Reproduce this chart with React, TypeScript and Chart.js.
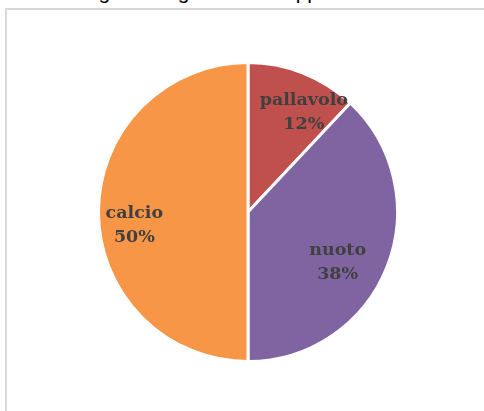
import React, { useEffect, useRef } from "react";
import { Chart, registerables } from "chart.js";

Chart.register(...registerables);

const categories = ["pallavolo", "nuoto", "calcio"];
const values = [12, 38, 50];
const percentLabels = ["12%", "38%", "50%"];
const colors = ["#C0504D", "#8064A2", "#F79646"];
const titleText = "Il gioco degli studenti appassionati";

const labelOffsets = [
  { dx: 14, dy: 6 },
  { dx: -16, dy: 9 },
  { dx: 0, dy: 13 },
];

const labelPlugin = {
  id: "sliceLabels",
  afterDatasetsDraw(chart: any) {
    const ctx = chart.ctx;
    const meta = chart.getDatasetMeta(0);
    ctx.save();
    ctx.font = "bold 17.5px 'DejaVu Serif'";
    ctx.fillStyle = "#404040";
    ctx.textAlign = "center";
    ctx.textBaseline = "middle";
    meta.data.forEach((arc: any, i: number) => {
      const p = arc.getProps(["x", "y", "startAngle", "endAngle", "outerRadius"], true);
      const mid = (p.startAngle + p.endAngle) / 2;
      const r = p.outerRadius * 0.76;
      const cx = p.x + Math.cos(mid) * r + labelOffsets[i].dx;
      const cy = p.y + Math.sin(mid) * r + labelOffsets[i].dy;
      ctx.fillText(categories[i], cx, cy - 12);
      ctx.fillText(percentLabels[i], cx, cy + 12);
    });
    ctx.restore();
  },
};

export default function App() {
  const ref = useRef<HTMLCanvasElement>(null);
  useEffect(() => {
    if (!ref.current) return;
    const chart = new Chart(ref.current, {
      type: "pie",
      data: {
        labels: categories,
        datasets: [
          {
            data: values,
            backgroundColor: colors,
            borderColor: "#FFFFFF",
            borderWidth: 3,
          },
        ],
      },
      options: {
        animation: false,
        responsive: false,
        radius: 149.5,
        layout: { padding: { left: 12, right: 0, top: 13, bottom: 0 } },
        plugins: {
          legend: { display: false },
          tooltip: { enabled: false },
          title: { display: false },
        },
      },
      plugins: [labelPlugin],
    });
    return () => chart.destroy();
  }, []);

  return (
    <div
      style={{
        position: "fixed",
        left: 0,
        top: 0,
        width: "100vw",
        height: "100vh",
        overflow: "hidden",
        background: "#fff",
      }}
    >
      <div
        style={{
          position: "absolute",
          left: 0,
          width: 484,
          top: -19,
          textAlign: "center",
          fontFamily: "'Liberation Sans', sans-serif",
          fontSize: 21,
          lineHeight: "22px",
          color: "#000",
          whiteSpace: "nowrap",
        }}
      >
        {titleText}
      </div>
      <div
        style={{
          position: "absolute",
          left: 5,
          top: 8,
          width: 3000,
          height: 3000,
          borderLeft: "2px solid #D9D9D9",
          borderTop: "2px solid #D9D9D9",
          boxSizing: "border-box",
        }}
      />
      <canvas
        ref={ref}
        width={484}
        height={411}
        style={{ position: "absolute", left: 0, top: 0, width: 484, height: 411 }}
      />
    </div>
  );
}
